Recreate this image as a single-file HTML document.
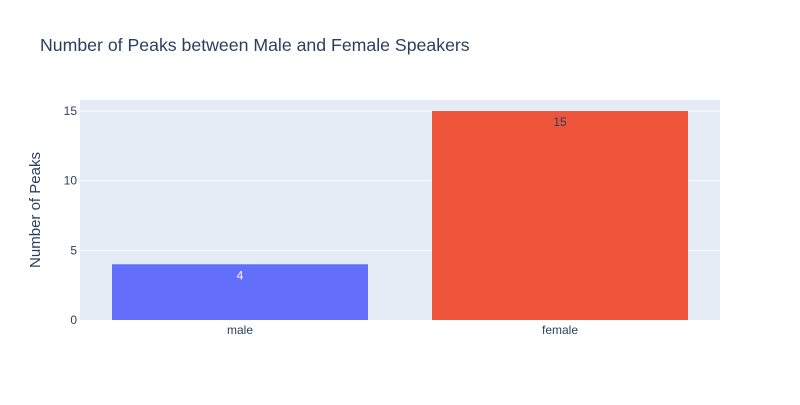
<!DOCTYPE html>
<html><head><meta charset="utf-8"><style>
body{margin:0;background:#fff;font-family:"Liberation Sans",Arial,sans-serif;}
svg text{font-family:"Liberation Sans",Arial,sans-serif;}
</style></head><body>
<svg width="800" height="400">
<rect x="0" y="0" width="800" height="400" fill="#fff"/>
<text x="40" y="51" font-size="17.7" fill="#2a3f5f">Number of Peaks between Male and Female Speakers</text>
<rect x="80" y="100" width="640" height="220" fill="#e5ecf6"/>
<text transform="translate(40,210) rotate(-90)" text-anchor="middle" font-size="15" fill="#2a3f5f">Number of Peaks</text>
</svg>
<script>
const categories = ["male","female"];
const values = [4,15];
const colors = ["#636efa","#ef553b"];
const yTicks = [0,5,10,15];
const x0=80,x1=720,yTop=100,yBot=320,yMax=15.79;
const svg=document.querySelector('svg');
const NS='http://www.w3.org/2000/svg';
const y=v=>yBot-(v/yMax)*(yBot-yTop);
const band=(x1-x0)/categories.length;
function mk(tag,attrs,text){const e=document.createElementNS(NS,tag);for(const k in attrs)e.setAttribute(k,attrs[k]);if(text!==undefined)e.textContent=text;svg.appendChild(e);return e;}
yTicks.forEach(t=>{
  if(t>0){const l=mk('line',{x1:x0,x2:x1,y1:y(t),y2:y(t),stroke:'#fff','stroke-width':1});
  
  }
  const tx=mk('text',{x:x0-3,y:y(t)+4,'text-anchor':'end','font-size':12,fill:'#2a3f5f'},String(t));
  
  
});
categories.forEach((c,i)=>{
  const cx=x0+band*(i+0.5),w=band*0.8;
  const r=mk('rect',{x:cx-w/2,y:y(values[i]),width:w,height:yBot-y(values[i]),fill:colors[i]});
  
  
  const v=mk('text',{x:cx,y:y(values[i])+15,'text-anchor':'middle','font-size':12,fill:i==0?'#fff':'#2a3f5f'},String(values[i]));
  
  
  const t=mk('text',{x:cx,y:yBot+14,'text-anchor':'middle','font-size':12,fill:'#2a3f5f'},c);
  
  
});
</script>
</body></html>
